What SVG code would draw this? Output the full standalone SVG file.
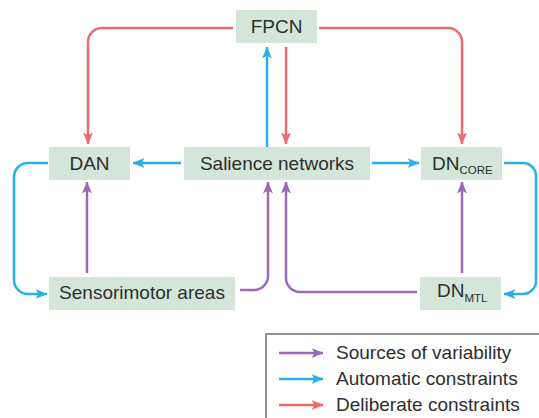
<svg xmlns="http://www.w3.org/2000/svg" width="539" height="418" viewBox="0 0 539 418">
<style>
.box{fill:#d3e6d9}
.t{font-family:"Liberation Sans",Arial,sans-serif;font-size:19px;fill:#2e2e2e}
.s{font-size:11.5px}
.lg{font-family:"Liberation Sans",Arial,sans-serif;font-size:19px;fill:#2e2e2e}
.c{fill:none;stroke-width:2.5}
.r{stroke:#ee6a6d}
.b{stroke:#2ab0e6}
.p{stroke:#9b68b3}
</style>
<defs>
<marker id="ar" viewBox="0 0 12 10" markerWidth="12" markerHeight="10" refX="11.5" refY="5" orient="auto" markerUnits="userSpaceOnUse"><path d="M0,0 L12,5 L0,10 L3,5 z" fill="#ee6a6d"/></marker>
<marker id="ab" viewBox="0 0 12 10" markerWidth="12" markerHeight="10" refX="11.5" refY="5" orient="auto" markerUnits="userSpaceOnUse"><path d="M0,0 L12,5 L0,10 L3,5 z" fill="#2ab0e6"/></marker>
<marker id="ap" viewBox="0 0 12 10" markerWidth="12" markerHeight="10" refX="11.5" refY="5" orient="auto" markerUnits="userSpaceOnUse"><path d="M0,0 L12,5 L0,10 L3,5 z" fill="#9b68b3"/></marker>
</defs>
<g id="connectors">
<path class="c r" d="M233,28 H102 A14,14 0 0 0 88,42 V144" marker-end="url(#ar)"/>
<path class="c r" d="M319,28 H448 A14,14 0 0 1 462,42 V144" marker-end="url(#ar)"/>
<path class="c r" d="M286,47 V144" marker-end="url(#ar)"/>
<path class="c b" d="M267,147 V47" marker-end="url(#ab)"/>
<path class="c b" d="M181,163 H133" marker-end="url(#ab)"/>
<path class="c b" d="M372,163 H419" marker-end="url(#ab)"/>
<path class="c b" d="M48,163 H28 A14,14 0 0 0 14,177 V280 A14,14 0 0 0 28,294 H47" marker-end="url(#ab)"/>
<path class="c b" d="M504,163 H523 A13,13 0 0 1 536,176 V281 A13,13 0 0 1 523,294 H504" marker-end="url(#ab)"/>
<path class="c p" d="M87,273 V182" marker-end="url(#ap)"/>
<path class="c p" d="M240,290 H254 A14,14 0 0 0 268,276 V182" marker-end="url(#ap)"/>
<path class="c p" d="M417,292 H300 A14,14 0 0 1 286,278 V182" marker-end="url(#ap)"/>
<path class="c p" d="M462,273 V182" marker-end="url(#ap)"/>
</g>
<g id="FPCN"><rect class="box" x="236" y="10" width="81" height="33"/><text class="t" x="276.5" y="33" text-anchor="middle">FPCN</text></g>
<g id="DAN"><rect class="box" x="49" y="147" width="81" height="33"/><text class="t" x="89.5" y="170" text-anchor="middle">DAN</text></g>
<g id="Salience"><rect class="box" x="184" y="147" width="186" height="33"/><text class="t" x="277" y="170" text-anchor="middle">Salience networks</text></g>
<g id="DNCORE"><rect class="box" x="421" y="147" width="81" height="33"/><text class="t" x="432" y="170">DN<tspan class="s" dy="3.5">CORE</tspan></text></g>
<g id="Sensorimotor"><rect class="box" x="49" y="277" width="186" height="33"/><text class="t" x="142" y="299" text-anchor="middle">Sensorimotor areas</text></g>
<g id="DNMTL"><rect class="box" x="420" y="277" width="81" height="33"/><text class="t" x="437" y="297">DN<tspan class="s" dy="5">MTL</tspan></text></g>
<g id="legend">
<rect x="266" y="334" width="300" height="100" fill="none" stroke="#555" stroke-width="1.3"/>
<path class="c p" d="M279,353 H323" marker-end="url(#ap)"/>
<path class="c b" d="M279,379 H323" marker-end="url(#ab)"/>
<path class="c r" d="M279,405 H323" marker-end="url(#ar)"/>
<text class="lg" x="336" y="359">Sources of variability</text>
<text class="lg" x="336" y="385">Automatic constraints</text>
<text class="lg" x="336" y="411">Deliberate constraints</text>
</g>
</svg>
